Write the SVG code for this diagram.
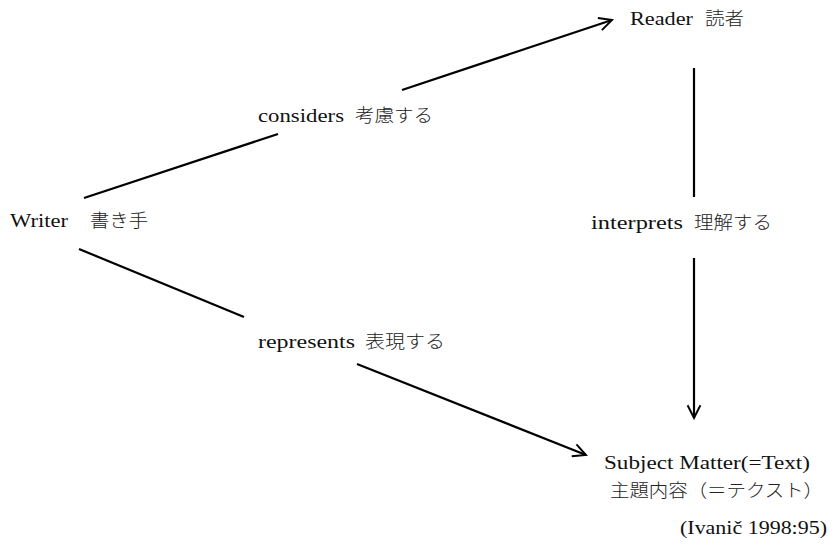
<svg xmlns="http://www.w3.org/2000/svg" width="835" height="545" viewBox="0 0 835 545">
<style>
.lat{font-family:"Liberation Serif","Noto Serif CJK JP","Noto Sans CJK JP",serif;font-size:19px;fill:#111}
.cjk{font-family:"Noto Sans CJK JP",sans-serif;font-size:18px;fill:#222;font-weight:300}
.ln{stroke:#000;stroke-width:2.2;fill:none}
</style>
<defs>
<marker id="ah" viewBox="0 0 20 20" refX="18" refY="10" markerWidth="16" markerHeight="16" markerUnits="userSpaceOnUse" orient="auto">
<path d="M2,2 L18,10 L2,18" fill="none" stroke="#000" stroke-width="2.4"/>
</marker>
</defs>
<rect width="835" height="545" fill="#fff"/>
<g id="connectors">
<line class="ln" x1="84" y1="198" x2="278" y2="134"/>
<line class="ln" x1="402" y1="90" x2="612" y2="20" marker-end="url(#ah)"/>
<line class="ln" x1="79" y1="249" x2="244" y2="317"/>
<line class="ln" x1="357" y1="364" x2="586" y2="455" marker-end="url(#ah)"/>
<line class="ln" x1="694" y1="68" x2="694" y2="197"/>
<line class="ln" x1="694" y1="258" x2="694" y2="418" marker-end="url(#ah)"/>
</g>
<g id="writer">
<text class="lat" x="10" y="227" textLength="58" lengthAdjust="spacingAndGlyphs">Writer</text>
<text class="cjk" x="90" y="227" textLength="58" lengthAdjust="spacingAndGlyphs">書き手</text>
</g>
<g id="reader">
<text class="lat" x="630" y="25" textLength="63" lengthAdjust="spacingAndGlyphs">Reader</text>
<text class="cjk" x="705" y="25" textLength="39" lengthAdjust="spacingAndGlyphs">読者</text>
</g>
<g id="considers">
<text class="lat" x="258" y="122" textLength="86" lengthAdjust="spacingAndGlyphs">considers</text>
<text class="cjk" x="355" y="122" textLength="78" lengthAdjust="spacingAndGlyphs">考慮する</text>
</g>
<g id="interprets">
<text class="lat" x="591" y="229" textLength="92" lengthAdjust="spacingAndGlyphs">interprets</text>
<text class="cjk" x="694" y="229" textLength="78" lengthAdjust="spacingAndGlyphs">理解する</text>
</g>
<g id="represents">
<text class="lat" x="258" y="348" textLength="97" lengthAdjust="spacingAndGlyphs">represents</text>
<text class="cjk" x="365" y="348" textLength="80" lengthAdjust="spacingAndGlyphs">表現する</text>
</g>
<g id="subject">
<text class="lat" x="604" y="469" textLength="206" lengthAdjust="spacingAndGlyphs">Subject Matter(=Text)</text>
<text class="cjk" x="610" y="497" textLength="213" lengthAdjust="spacingAndGlyphs">主題内容（＝テクスト）</text>
</g>
<g id="citation">
<text class="lat" x="680" y="534" textLength="147" lengthAdjust="spacingAndGlyphs">(Ivanič 1998:95)</text>
</g>
</svg>
